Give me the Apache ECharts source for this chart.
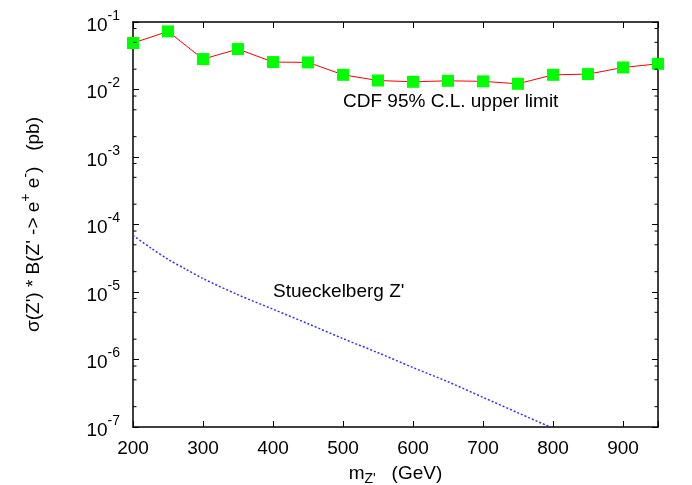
<!DOCTYPE html>
<html><head><meta charset="utf-8">
<script src="https://cdn.jsdelivr.net/npm/echarts@6/dist/echarts.min.js"></script>
<style>html,body{margin:0;padding:0;background:#fff}#c{width:692px;height:485px}</style>
</head><body><div id="c"></div>
<script>
// ---- data ----
const massCDF  = [200, 250, 300, 350, 400, 450, 500, 550, 600, 650, 700, 750, 800, 850, 900, 950];
const limitCDF = [0.0488, 0.0726, 0.0282, 0.0397, 0.0255, 0.0252, 0.0165, 0.0136, 0.0130, 0.01345, 0.0132, 0.01216, 0.0165, 0.0169, 0.0212, 0.0240];
const massStu  = [200, 225, 250, 275, 300, 350, 400, 450, 500, 550, 600, 650, 700, 750, 796];
const sigmaStu = [6.9e-5, 4.52e-5, 3.05e-5, 2.19e-5, 1.58e-5, 9.1e-6, 5.56e-6, 3.39e-6, 2.04e-6, 1.26e-6, 7.6e-7, 4.68e-7, 2.75e-7, 1.62e-7, 1.0e-7];
const xTickLabels = [200, 300, 400, 500, 600, 700, 800, 900];
const yMinorTicks = [2e-7,5e-7,8e-7, 2e-6,5e-6,8e-6, 2e-5,5e-5,8e-5, 2e-4,5e-4,8e-4, 2e-3,5e-3,8e-3, 2e-2,5e-2,8e-2];
const labelCDF = 'CDF 95% C.L. upper limit';
const labelStu = "Stueckelberg Z'";

const FONT = 'Liberation Sans, Arial, Helvetica, sans-serif';
const FS = 19, FSS = 14;
const chart = echarts.init(document.getElementById('c'), null, {renderer: 'canvas'});

const xMin = 200, xMax = 950;
const axisLineStyle = {color: '#000', width: 1.5};
const baseX = {
  type: 'value', min: xMin, max: xMax, interval: 100,
  splitLine: {show: false},
  axisLine: {show: true, onZero: false, lineStyle: axisLineStyle},
  axisTick: {show: true, inside: true, length: 6, lineStyle: {color: '#000', width: 1}}
};
const baseY = {
  type: 'log', logBase: 10, min: 1e-7, max: 1e-1, splitNumber: 6,
  splitLine: {show: false},
  axisLine: {show: true, onZero: false, lineStyle: axisLineStyle},
  axisTick: {show: true, inside: true, length: 6, lineStyle: {color: '#000', width: 1}}
};

const option = {
  animation: false,
  backgroundColor: '#fff',
  textStyle: {fontFamily: FONT, color: '#000'},
  grid: {left: 133, right: 34, top: 22, bottom: 58, containLabel: false, outerBoundsMode: 'none'},
  xAxis: [
    Object.assign({}, baseX, {
      position: 'bottom',
      axisLabel: {
        show: true, color: '#000', fontSize: FS, fontFamily: FONT, margin: 12,
        formatter: v => (xTickLabels.indexOf(v) >= 0 ? String(v) : '')
      },
      name: "{a|m}{s|Z'}{a|   (GeV)}",
      nameLocation: 'middle', nameGap: 37,
      nameTextStyle: {
        fontSize: FS,
        rich: {
          a: {fontSize: FS, fontFamily: FONT, color: '#000', lineHeight: 22, verticalAlign: 'top'},
          s: {fontSize: FSS, fontFamily: FONT, color: '#000', lineHeight: 22, verticalAlign: 'bottom'}
        }
      }
    }),
    Object.assign({}, baseX, {position: 'top', axisLabel: {show: false}})
  ],
  yAxis: [
    Object.assign({}, baseY, {
      position: 'left',
      axisLabel: {
        show: true, margin: 13, color: '#000',
        formatter: v => '{b|10}{s|' + Math.round(Math.log10(v)) + '}',
        rich: {
          b: {fontSize: FS, fontFamily: FONT, color: '#000', lineHeight: 26, verticalAlign: 'bottom'},
          s: {fontSize: FSS, fontFamily: FONT, color: '#000', lineHeight: 26, verticalAlign: 'top'}
        }
      },
      name: "{a|σ(Z') * B(Z' -> e}{s|+}{a| e}{s|-}{a|)   (pb)}",
      nameLocation: 'middle', nameGap: 90, nameRotate: 90,
      nameTextStyle: {
        fontSize: FS,
        rich: {
          a: {fontSize: FS, fontFamily: FONT, color: '#000', lineHeight: 24, verticalAlign: 'bottom'},
          s: {fontSize: FSS, fontFamily: FONT, color: '#000', lineHeight: 24, verticalAlign: 'top'}
        }
      }
    }),
    Object.assign({}, baseY, {position: 'right', axisLabel: {show: false}})
  ],
  graphic: [
    {type: 'text', x: 343, y: 102, silent: true,
     style: {text: labelCDF, fontSize: FS, fontFamily: FONT, fill: '#000', align: 'left', verticalAlign: 'middle'}},
    {type: 'text', x: 273, y: 292, silent: true,
     style: {text: labelStu, fontSize: FS, fontFamily: FONT, fill: '#000', align: 'left', verticalAlign: 'middle'}}
  ],
  series: [
    {
      type: 'custom', xAxisIndex: 0, yAxisIndex: 0, silent: true, clip: false, z: 5,
      data: yMinorTicks.map(v => [xMin, v]),
      renderItem: (params, api) => {
        const v = api.value(1);
        const p = api.coord([xMin, v]);
        const q = api.coord([xMax, v]);
        return {type: 'group', children: [
          {type: 'line', shape: {x1: p[0], y1: p[1], x2: p[0] + 3.5, y2: p[1]}, style: {stroke: '#000', lineWidth: 1}},
          {type: 'line', shape: {x1: q[0] - 3.5, y1: q[1], x2: q[0], y2: q[1]}, style: {stroke: '#000', lineWidth: 1}}
        ]};
      }
    },
    {
      name: 'Stueckelberg', type: 'line', xAxisIndex: 0, yAxisIndex: 0,
      data: massStu.map((m, i) => [m, sigmaStu[i]]),
      showSymbol: false, smooth: 0.3, z: 3,
      lineStyle: {color: '#3030ff', width: 1.5, type: [2, 2]}
    },
    {
      name: 'CDF', type: 'line', xAxisIndex: 0, yAxisIndex: 0,
      data: massCDF.map((m, i) => [m, limitCDF[i]]),
      symbol: 'rect', symbolSize: 12, showSymbol: true, clip: false, z: 4,
      lineStyle: {color: '#ff0000', width: 1},
      itemStyle: {color: '#00ff00', borderWidth: 0}
    }
  ]
};
chart.setOption(option);
</script>
</body></html>
